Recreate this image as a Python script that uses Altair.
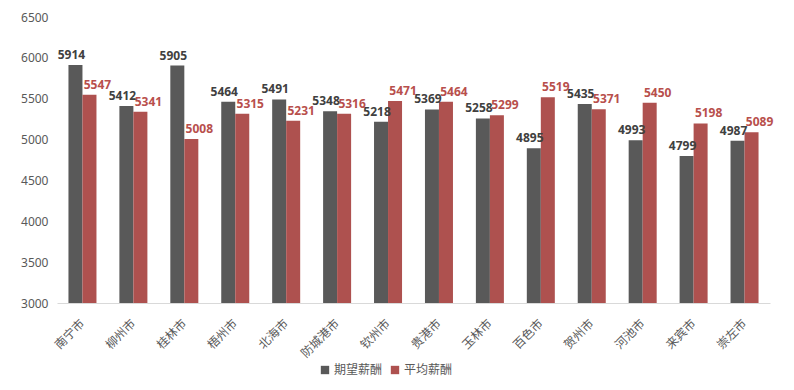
import altair as alt
import pandas as pd

cities = ["南宁市", "柳州市", "桂林市", "梧州市", "北海市", "防城港市", "钦州市",
          "贵港市", "玉林市", "百色市", "贺州市", "河池市", "来宾市", "崇左市"]
expected = [5914, 5412, 5905, 5464, 5491, 5348, 5218, 5369, 5258, 4895, 5435, 4993, 4799, 4987]
average = [5547, 5341, 5008, 5315, 5231, 5316, 5471, 5464, 5299, 5519, 5371, 5450, 5198, 5089]
series = ["期望薪酬", "平均薪酬"]
colors = ["#595959", "#AE514F"]
label_colors = ["#404040", "#B84F4C"]

rows = []
for i, c in enumerate(cities):
    rows.append({"city": c, "series": series[0], "value": expected[i]})
    rows.append({"city": c, "series": series[1], "value": average[i]})
df = pd.DataFrame(rows)

FONT = "Noto Sans CJK SC"

x_enc = alt.X("city:N", sort=cities, title=None,
              scale=alt.Scale(paddingInner=0.45, paddingOuter=0.225),
              axis=alt.Axis(labelAngle=-45, labelAlign="right", labelBaseline="middle",
                            labelFontSize=12, labelColor="#595959", labelFont=FONT,
                            ticks=False, domainColor="#D9D9D9", domainWidth=1,
                            labelPadding=18))
xo = alt.XOffset("series:N", sort=series)
y_enc = alt.Y("value:Q", title=None,
              scale=alt.Scale(domain=[3000, 6500], zero=False, clamp=True),
              axis=alt.Axis(values=list(range(3000, 7000, 500)), format="d", grid=False,
                            domain=False, ticks=False, labelFontSize=12,
                            labelColor="#595959", labelFont="Noto Sans", labelPadding=9))

bars = alt.Chart(df).mark_bar().encode(
    x=x_enc, xOffset=xo, y=y_enc,
    color=alt.Color("series:N", sort=series,
                    scale=alt.Scale(domain=series, range=colors),
                    legend=alt.Legend(title=None, orient="none", legendX=262, legendY=347,
                                      direction="horizontal", symbolType="square",
                                      symbolSize=70, symbolStrokeWidth=0,
                                      labelFontSize=12, labelColor="#595959",
                                      labelFont=FONT, columnPadding=6, labelOffset=3)),
)

t1 = alt.Chart(df).transform_filter(alt.datum.series == series[0]).mark_text(
    baseline="bottom", dy=-3, dx=-4, fontSize=12, fontWeight="bold", font="Noto Sans",
    color=label_colors[0]).encode(x=x_enc, xOffset=xo, y=y_enc, text="value:Q")
t2 = alt.Chart(df).transform_filter(alt.datum.series == series[1]).mark_text(
    baseline="bottom", dy=-3, dx=8, fontSize=12, fontWeight="bold", font="Noto Sans",
    color=label_colors[1]).encode(x=x_enc, xOffset=xo, y=y_enc, text="value:Q")

chart = alt.layer(bars, t1, t2).properties(
    width=713, height=286, autosize="none",
    padding={"left": 49, "top": 9, "right": 16, "bottom": 79},
).configure(background="white").configure_view(stroke="transparent", strokeWidth=0)

chart.save("out.html", embed_options={"renderer": "svg", "actions": False})
